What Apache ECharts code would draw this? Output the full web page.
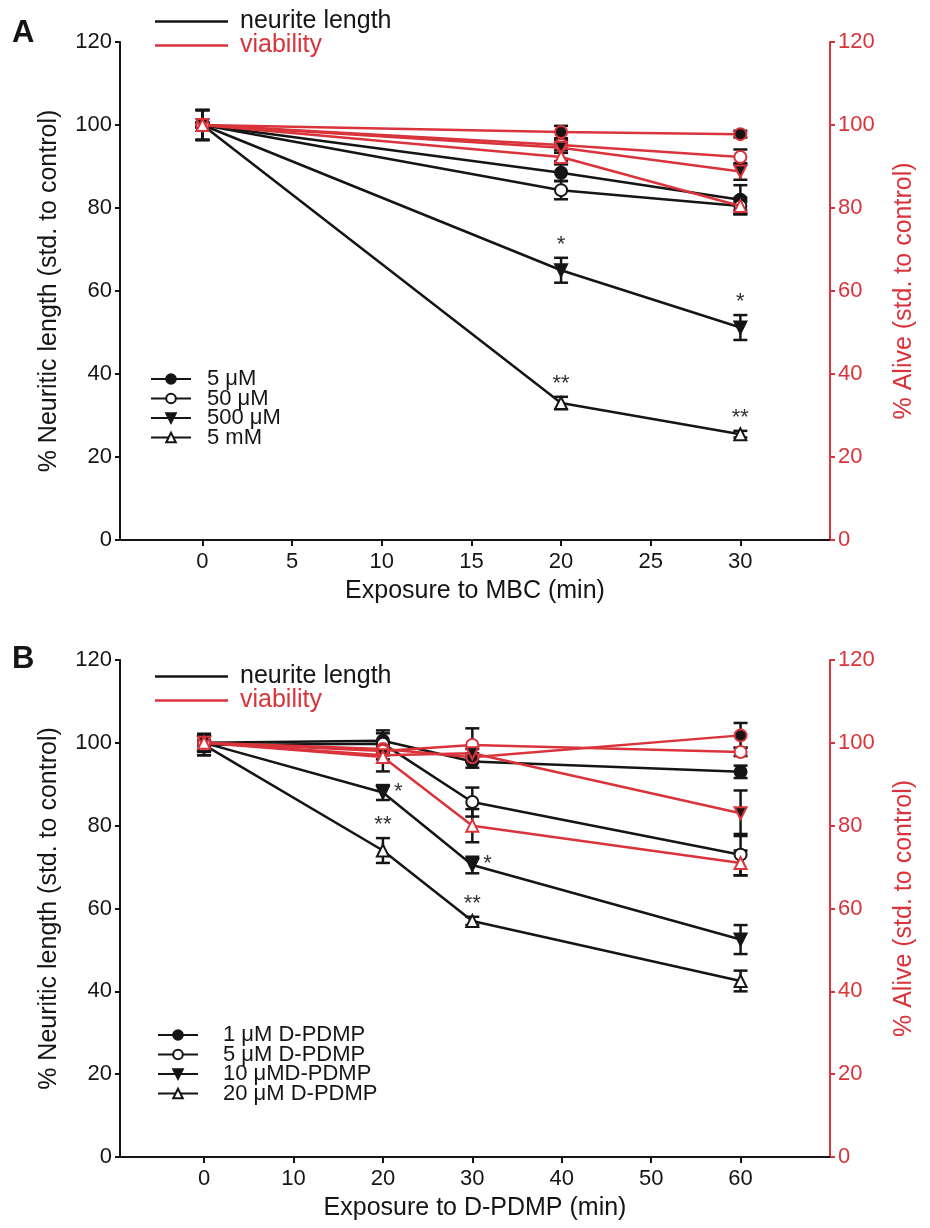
<!DOCTYPE html>
<html>
<head>
<meta charset="utf-8">
<script src="https://cdn.jsdelivr.net/npm/echarts@6/dist/echarts.min.js"></script>
<style>html,body{margin:0;padding:0;background:#fff;}#c{width:930px;height:1228px;}</style>
</head>
<body>
<div id="c"></div>
<script>
// ---------- DATA ----------
const xA = [0, 20, 30];
const concA = ['5 μM', '50 μM', '500 μM', '5 mM'];
const neuriteA = [[100, 88.5, 82], [100, 84.3, 80.5], [100, 65, 51.2], [100, 33, 25.5]];
const neuriteAErr = [[3.6, 2, 3.5], [3.6, 2.2, 2], [3.6, 3, 3], [3.6, 1.5, 0.8]];
const viabilityA = [[100, 98.3, 97.8], [100, 95.2, 92.3], [100, 94.5, 88.8], [100, 92.3, 80.5]];
const viabilityAErr = [[0.6, 1.5, 0.8], [0.6, 1.2, 1.8], [0.6, 1.2, 2], [0.6, 1, 1]];
// [concentration index, time index, mark, placement]
const starsA = [[2, 1, '*', 'above'], [2, 2, '*', 'above'], [3, 1, '**', 'above'], [3, 2, '**', 'above']];
const ticksA = [0, 5, 10, 15, 20, 25, 30];

const xB = [0, 20, 30, 60];
const concB = ['1 μM D-PDMP', '5 μM D-PDMP', '10 μMD-PDMP', '20 μM D-PDMP'];
const neuriteB = [[100, 100.5, 95.5, 93], [99.5, 99.8, 85.7, 73], [100, 88, 70.5, 52.5], [99.5, 74, 57, 42.5]];
const neuriteBErr = [[2.2, 2.5, 1.5, 1.5], [2.5, 2.5, 3.5, 5], [2, 1.8, 2, 3.5], [2.5, 3, 1, 2.5]];
const viabilityB = [[100, 98.5, 96.5, 101.8], [100, 98, 99.5, 97.8], [100, 97, 97.5, 83], [100, 96.6, 80, 71]];
const viabilityBErr = [[0.5, 1, 1, 3], [0.5, 1, 4, 1], [0.5, 1, 1, 5.5], [0.5, 3.5, 4, 3]];
const starsB = [[2, 1, '*', 'right'], [2, 2, '*', 'right'], [3, 1, '**', 'above'], [3, 2, '**', 'above']];
const ticksB = [0, 10, 20, 30, 40, 50, 60];

// ---------- STYLE ----------
const RED = '#d9343b';
const INK = '#151515';
const FONT = '"Liberation Sans", Arial, sans-serif';
const markers = [
  { symbol: 'circle', rotate: 0, fill: INK },
  { symbol: 'circle', rotate: 0, fill: '#ffffff' },
  { symbol: 'triangle', rotate: 180, fill: INK },
  { symbol: 'triangle', rotate: 0, fill: '#ffffff' }
];

const series = [];

function lineSeries(name, xs, ys, m, color, xi, yi) {
  return {
    type: 'line', name: name, xAxisIndex: xi, yAxisIndex: yi,
    data: xs.map((x, i) => [x, ys[i]]),
    symbol: m.symbol, symbolRotate: m.rotate, symbolSize: 12, showSymbol: true,
    lineStyle: { color: color, width: 2.5 },
    itemStyle: { color: m.fill, borderColor: color, borderWidth: 2 },
    z: color === RED ? 5 : 4, animation: false, silent: true
  };
}

function errSeries(xs, ys, es, xi, yi) {
  return {
    type: 'custom', xAxisIndex: xi, yAxisIndex: yi, z: 3, silent: true, animation: false,
    data: xs.map((x, i) => [x, ys[i], es[i]]),
    renderItem: function (params, api) {
      const x = api.value(0), y = api.value(1), e = api.value(2);
      const top = api.coord([x, y + e]);
      const bot = api.coord([x, y - e]);
      const w = 7;
      const st = { stroke: INK, lineWidth: 2.5 };
      return {
        type: 'group', children: [
          { type: 'line', shape: { x1: top[0], y1: top[1], x2: bot[0], y2: bot[1] }, style: st },
          { type: 'line', shape: { x1: top[0] - w, y1: top[1], x2: top[0] + w, y2: top[1] }, style: st },
          { type: 'line', shape: { x1: bot[0] - w, y1: bot[1], x2: bot[0] + w, y2: bot[1] }, style: st }
        ]
      };
    }
  };
}

function starSeries(stars, xs, ys, es, xi, yi) {
  return {
    type: 'custom', xAxisIndex: xi, yAxisIndex: yi, z: 6, silent: true, animation: false,
    data: stars.map(s => [xs[s[1]], ys[s[0]][s[1]], es[s[0]][s[1]]]),
    renderItem: function (params, api) {
      const d = stars[params.dataIndex];
      const x = api.value(0), y = api.value(1), e = api.value(2);
      let p, align, valign;
      if (d[3] === 'above') {
        p = api.coord([x, y + e]); p = [p[0], p[1] - 2]; align = 'center'; valign = 'bottom';
      } else {
        p = api.coord([x, y]); p = [p[0] + 11, p[1] - 1]; align = 'left'; valign = 'middle';
      }
      return {
        type: 'text', x: p[0], y: p[1],
        style: { text: d[2], fill: '#333', font: '22px ' + FONT, align: align, verticalAlign: valign }
      };
    }
  };
}

function addPanel(xs, conc, neu, neuE, via, viaE, stars, xi, yl, yr) {
  conc.forEach((c, k) => series.push(errSeries(xs, neu[k], neuE[k], xi, yl)));
  conc.forEach((c, k) => series.push(lineSeries(c, xs, neu[k], markers[k], INK, xi, yl)));
  conc.forEach((c, k) => series.push(errSeries(xs, via[k], viaE[k], xi, yr)));
  conc.forEach((c, k) => series.push(lineSeries(c, xs, via[k], markers[k], RED, xi, yr)));
  series.push(starSeries(stars, xs, neu, neuE, xi, yl));
}
addPanel(xA, concA, neuriteA, neuriteAErr, viabilityA, viabilityAErr, starsA, 0, 0, 1);
addPanel(xB, concB, neuriteB, neuriteBErr, viabilityB, viabilityBErr, starsB, 1, 2, 3);

// dummy series for the "neurite length / viability" key
series.push({ type: 'line', name: 'neurite length', data: [], symbol: 'none', xAxisIndex: 0, yAxisIndex: 0, lineStyle: { color: INK, width: 2.5 }, itemStyle: { color: INK } });
series.push({ type: 'line', name: 'viability', data: [], symbol: 'none', xAxisIndex: 0, yAxisIndex: 0, lineStyle: { color: RED, width: 2.5 }, itemStyle: { color: RED } });

function xAxis(gi, min, max, ticks, name) {
  return {
    type: 'value', gridIndex: gi, min: min, max: max,
    name: name, nameLocation: 'middle', nameGap: 39,
    nameTextStyle: { fontFamily: FONT, fontSize: 25, color: INK },
    axisLine: { show: true, onZero: false, lineStyle: { color: INK, width: 2 } },
    axisTick: { show: true, customValues: ticks, length: 6, lineStyle: { color: INK, width: 2 } },
    axisLabel: { show: true, customValues: ticks, fontFamily: FONT, fontSize: 22, color: INK, margin: 11 },
    splitLine: { show: false }
  };
}
function yAxis(gi, pos, color, name) {
  return {
    type: 'value', gridIndex: gi, position: pos, min: 0, max: 120, interval: 20,
    name: name, nameLocation: 'middle', nameGap: pos === 'left' ? 58 : 62, nameRotate: 90,
    nameTextStyle: { fontFamily: FONT, fontSize: 25, color: color },
    axisLine: { show: true, onZero: false, lineStyle: { color: color, width: 2 } },
    axisTick: { show: true, length: 5, lineStyle: { color: color, width: 2 } },
    axisLabel: { fontFamily: FONT, fontSize: 22, color: color, margin: 8 },
    splitLine: { show: false }
  };
}

function keyLegend(top) {
  return {
    orient: 'vertical', left: 155, top: top, icon: 'rect', itemWidth: 73, itemHeight: 2.5, itemGap: -1, padding: 0,
    selectedMode: false,
    textStyle: { fontFamily: FONT, fontSize: 25, color: INK, padding: [0, 0, 0, 7] },
    data: [{ name: 'neurite length' }, { name: 'viability', textStyle: { color: RED } }]
  };
}
function concLegend(names, left, top, gap) {
  return {
    orient: 'vertical', left: left, top: top, itemWidth: 40, itemHeight: 12, itemGap: -2.5, padding: 0,
    selectedMode: false,
    textStyle: { fontFamily: FONT, fontSize: 22, color: INK, padding: [0, 0, 0, gap] },
    data: names
  };
}

const option = {
  backgroundColor: '#fff',
  animation: false,
  grid: [
    { left: 120, top: 42, width: 710, height: 498 },
    { left: 120, top: 660, width: 710, height: 497 }
  ],
  xAxis: [
    xAxis(0, -4.6, 35, ticksA, 'Exposure to MBC (min)'),
    xAxis(1, -9.4, 70, ticksB, 'Exposure to D-PDMP (min)')
  ],
  yAxis: [
    yAxis(0, 'left', INK, '% Neuritic length (std. to control)'),
    yAxis(0, 'right', RED, '% Alive (std. to control)'),
    yAxis(1, 'left', INK, '% Neuritic length (std. to control)'),
    yAxis(1, 'right', RED, '% Alive (std. to control)')
  ],
  legend: [
    keyLegend(9),
    keyLegend(664),
    concLegend(concA, 150, 368, 11),
    concLegend(concB, 157, 1024, 20)
  ],
  graphic: [
    { type: 'text', left: 12, top: 18, style: { text: 'A', font: 'bold 31px ' + FONT, fill: INK } },
    { type: 'text', left: 12, top: 644, style: { text: 'B', font: 'bold 31px ' + FONT, fill: INK } }
  ],
  series: series
};

const chart = echarts.init(document.getElementById('c'), null, { renderer: 'canvas' });
chart.setOption(option);
</script>
</body>
</html>
